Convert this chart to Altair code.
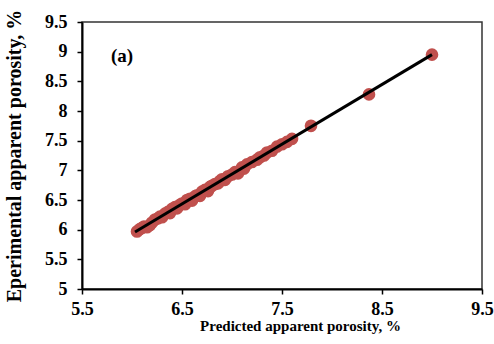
import altair as alt
import pandas as pd

predicted = [6.05, 6.08, 6.10, 6.12, 6.15, 6.18, 6.20, 6.23, 6.26, 6.28, 6.30, 6.33, 6.36, 6.38,
             6.40, 6.43, 6.45, 6.48, 6.50, 6.53, 6.55, 6.58, 6.60, 6.63, 6.65, 6.68, 6.70, 6.73,
             6.76, 6.78, 6.80, 6.83, 6.86, 6.88, 6.90, 6.93, 6.96, 7.00, 7.03, 7.06, 7.10, 7.12,
             7.15, 7.20, 7.25, 7.28, 7.32, 7.35, 7.40, 7.45, 7.50, 7.55, 7.60, 7.79, 8.37, 9.00]
experimental = [5.97, 6.01, 6.03, 6.05, 6.04, 6.08, 6.12, 6.17, 6.19, 6.22, 6.21, 6.27, 6.30, 6.28,
                6.35, 6.38, 6.36, 6.42, 6.44, 6.43, 6.50, 6.52, 6.49, 6.56, 6.58, 6.57, 6.64, 6.67,
                6.65, 6.72, 6.74, 6.77, 6.78, 6.82, 6.85, 6.84, 6.90, 6.93, 6.97, 6.95, 7.05, 7.03,
                7.10, 7.14, 7.18, 7.22, 7.25, 7.30, 7.33, 7.40, 7.44, 7.48, 7.53, 7.75, 8.28, 8.95]

fit_x = [6.03, 9.00]
fit_y = [5.96, 8.95]

x_ticks = [5.5, 6.5, 7.5, 8.5, 9.5]
y_ticks = [5, 5.5, 6, 6.5, 7, 7.5, 8, 8.5, 9, 9.5]

label_text = ["(a)"]
label_x = [5.9]
label_y = [8.92]

pts = pd.DataFrame({"x": predicted, "y": experimental})
fit = pd.DataFrame({"x": fit_x, "y": fit_y})
lab = pd.DataFrame({"x": label_x, "y": label_y, "t": label_text})

FONT = "Liberation Serif"

xscale = alt.Scale(domain=[5.5, 9.5], nice=False, zero=False)
yscale = alt.Scale(domain=[5, 9.5], nice=False, zero=False)

xaxis = alt.Axis(values=x_ticks, labelExpr="'' + datum.value",
                 title="Predicted apparent porosity, %", titleFontSize=15,
                 titlePadding=0, titleX=218, labelPadding=6)
yaxis = alt.Axis(values=y_ticks, labelExpr="'' + datum.value",
                 title="Eperimental apparent porosity, %", titleFontSize=20,
                 titlePadding=20, labelPadding=10)

X = alt.X("x:Q", scale=xscale, axis=xaxis)
Y = alt.Y("y:Q", scale=yscale, axis=yaxis)

points = alt.Chart(pts).mark_circle(size=160, color="#c0504d", opacity=1).encode(x=X, y=Y)
line = alt.Chart(fit).mark_line(color="black", strokeWidth=3).encode(x=X, y=Y)
text = alt.Chart(lab).mark_text(font=FONT, fontSize=19, fontWeight="bold", color="black").encode(
    x=X, y=Y, text="t:N",
)

chart = (points + line + text).properties(
    width=400, height=267,
    background="white",
    autosize=alt.AutoSizeParams(type="none"),
    padding={"left": 82, "top": 22, "right": 12, "bottom": 55},
).configure_view(
    stroke="#333333", strokeWidth=1.5
).configure_axis(
    grid=False, labelFlush=False, labelOverlap=False,
    labelFont=FONT, labelFontSize=18, labelFontWeight="bold", labelColor="black",
    tickSize=5, tickColor="black", tickWidth=1.5,
    domainColor="black", domainWidth=2,
    titleFont=FONT, titleFontWeight="bold", titleColor="black",
)

chart.save("out.html", embed_options={"renderer": "svg", "actions": False})
